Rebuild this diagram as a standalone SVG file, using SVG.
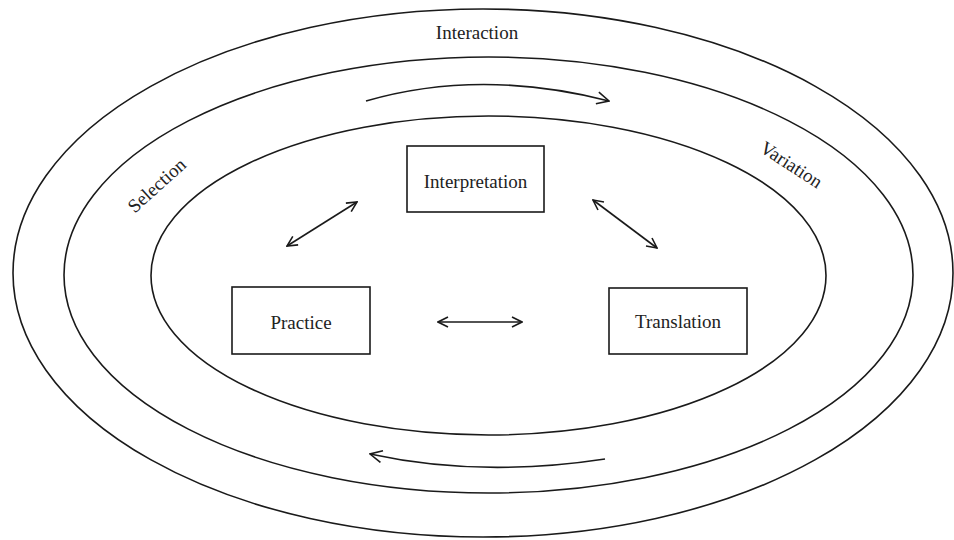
<svg xmlns="http://www.w3.org/2000/svg" width="954" height="540" viewBox="0 0 954 540">
<style>
.ring{fill:none;stroke:#1a1a1a;stroke-width:1.6}
.box{fill:#fff;stroke:#1a1a1a;stroke-width:1.6}
.t{font-family:"Liberation Serif","Times New Roman",serif;font-size:19px;fill:#222;text-anchor:middle}
.c{fill:none;stroke:#1a1a1a;stroke-width:1.6}
</style>
<defs>
<marker id="ah" viewBox="0 0 12 12" refX="11" refY="6" markerWidth="12" markerHeight="12" markerUnits="userSpaceOnUse" orient="auto-start-reverse">
<path d="M1,1 L11,6 L1,11" fill="none" stroke="#1a1a1a" stroke-width="1.6"/>
</marker>
<marker id="ah2" viewBox="0 0 14 14" refX="13" refY="7" markerWidth="14" markerHeight="14" markerUnits="userSpaceOnUse" orient="auto-start-reverse">
<path d="M1,1 L13,7 L1,13" fill="none" stroke="#1a1a1a" stroke-width="1.6"/>
</marker>
</defs>
<rect width="954" height="540" fill="#fff"/>
<g id="rings">
<ellipse id="outer" class="ring" cx="483" cy="273" rx="470" ry="264"/>
<ellipse id="middle" class="ring" cx="488.5" cy="275" rx="424.5" ry="218"/>
<ellipse id="inner" class="ring" cx="488.5" cy="275.5" rx="337.5" ry="159.5"/>
</g>
<g id="labels">
<text class="t" x="477" y="39">Interaction</text>
<text class="t" transform="translate(161,190) rotate(-42)">Selection</text>
<text class="t" transform="translate(788,170) rotate(33)">Variation</text>
</g>
<g id="interpretation">
<rect class="box" x="407" y="146" width="137" height="66"/>
<text class="t" x="475.5" y="188">Interpretation</text>
</g>
<g id="practice">
<rect class="box" x="232" y="287" width="138" height="67"/>
<text class="t" x="301" y="329">Practice</text>
</g>
<g id="translation">
<rect class="box" x="609" y="288" width="138" height="66"/>
<text class="t" x="678" y="328">Translation</text>
</g>
<g id="connectors">
<line class="c" x1="357" y1="202" x2="287" y2="246" marker-start="url(#ah)" marker-end="url(#ah)"/>
<line class="c" x1="593" y1="200" x2="657" y2="248" marker-start="url(#ah)" marker-end="url(#ah)"/>
<line class="c" x1="438" y1="322" x2="522" y2="322" marker-start="url(#ah)" marker-end="url(#ah)"/>
<path class="c" d="M366,101 Q480,68 609,101" marker-end="url(#ah2)"/>
<path class="c" d="M605,459 Q480,478 370,454" marker-end="url(#ah2)"/>
</g>
</svg>
